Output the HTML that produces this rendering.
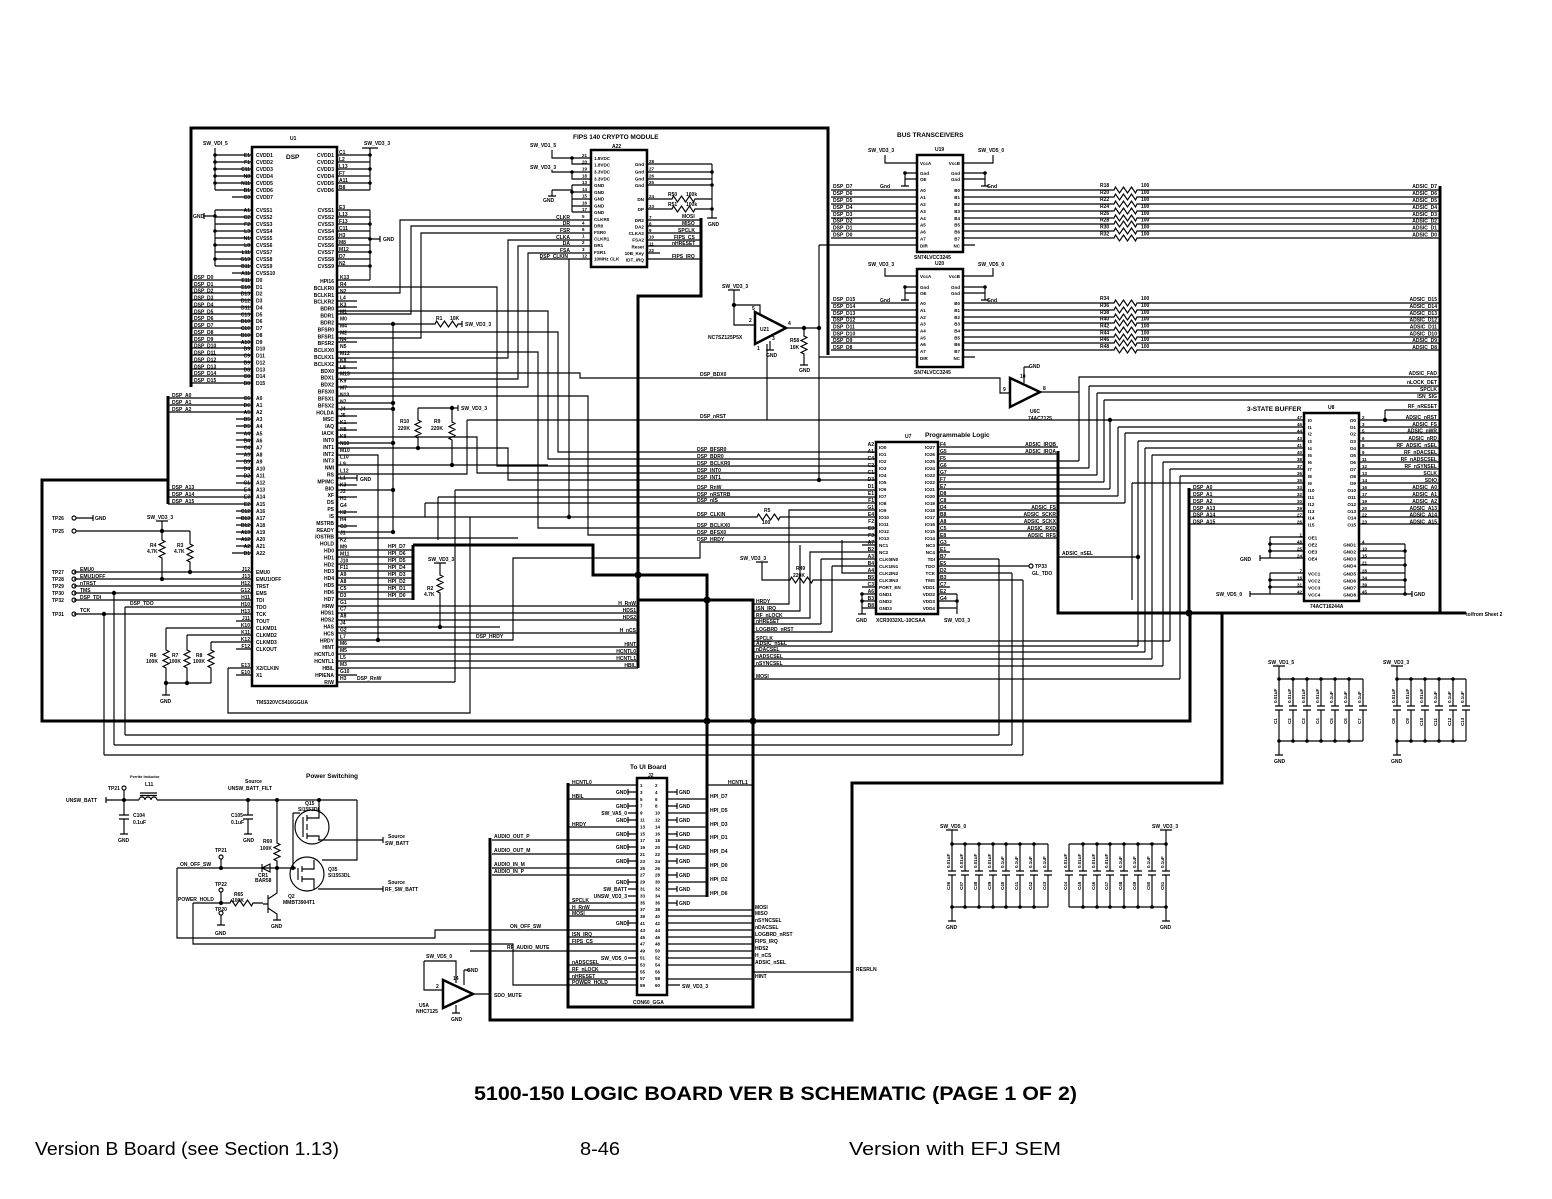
<!DOCTYPE html>
<html><head><meta charset="utf-8">
<style>
html,body{margin:0;padding:0;background:#fff;}
svg{display:block;}
text{font-family:"Liberation Sans",sans-serif;fill:#000;}
.lbl text{font-weight:bold;}
</style></head>
<body>
<svg width="1552" height="1199" viewBox="0 0 1552 1199" xmlns="http://www.w3.org/2000/svg">
<rect width="1552" height="1199" fill="#fff"/>

<!-- THIN WIRES -->
<g fill="none" stroke="#000" stroke-width="1.15">
<path d="M215,148V190 M215,155H252 M215,162H252 M215,169H252 M215,176H252 M215,183H252 M215,190H252 M232,197H252
M215,210V266 M215,210H252 M215,217H252 M215,224H252 M215,231H252 M215,238H252 M215,245H252 M215,252H252 M215,259H252 M215,266H252 M232,273H252 M204,216H215 M204,213V219"/>
<path d="M191,280H252 M191,287H252 M191,293H252 M191,300H252 M191,307H252 M191,314H252 M191,321H252 M191,328H252 M191,335H252 M191,342H252 M191,348H252 M191,355H252 M191,362H252 M191,369H252 M191,376H252 M191,383H252"/>
<path d="M168,398H252 M168,405H252 M168,412H252 M236,419H252 M236,426H252 M236,433H252 M236,440H252 M236,447H252 M236,454H252 M236,461H252 M236,468H252 M236,476H252 M236,483H252 M168,490H252 M168,497H252 M168,504H252 M236,511H252 M236,518H252 M236,525H252 M236,532H252 M236,539H252 M236,546H252 M232,553H252"/>
<path d="M76,518H93 M93,515V521 M76,531H190 M74,572H252 M74,579H252 M74,586H252 M74,593H252 M74,600H252 M125,607H252 M74,614H252 M236,621H252 M166,628H252 M187,635H252 M211,642H252 M236,649H252 M228,668H252 M236,675H252
M162,521V540 l3,1.5 l-6,3 l6,3 l-6,3 l6,3 l-6,3 l3,1.5 V579 M156,521H168
M190,531V544 l3,1.5 l-6,3 l6,3 l-6,3 l6,3 l-6,3 l3,1.5 V572
M114,593V745 M125,607V735 M104,614V755 M125,735H999 M114,745H1012 M104,755H1023 M999,735V559 M1012,745V573 M1023,755V580
M166,628V650 l3,1.5 l-6,3 l6,3 l-6,3 l6,3 l-6,3 l3,1.5 V683 M187,635V650 l3,1.5 l-6,3 l6,3 l-6,3 l6,3 l-6,3 l3,1.5 V683 M211,642V650 l3,1.5 l-6,3 l6,3 l-6,3 l6,3 l-6,3 l3,1.5 V683 M166,683H211 M166,683V695 M162,695H170
M228,668V713H470V517"/>
<path d="M337,155H370 M337,162H370 M337,169H370 M337,176H370 M337,183H370 M337,190H370 M370,148V190 M362,148H378
M337,210H370 M337,217H370 M337,224H370 M337,231H370 M337,238H370 M337,245H370 M337,252H370 M337,259H370 M337,266H370 M370,210V280 M370,239H380 M380,236V242
M337,280H370
M337,287H497V466H876
M337,293H400V220H591
M337,301H357 M337,307H357
M337,311H548V459H876
M337,314H411V226H591
M337,324H435 l1.5,-3 l4,6 l4,-6 l4,6 l4,-6 l4,6 l1.5,-3 H462 M462,321V327
M393,324V532
M337,332H558V452H876
M337,338H421V233H591
M337,342H357
M337,352H538V528H876
M337,358H508V240H591
M337,362H357 M337,368H357
M337,373H580V378H1000V393H1010
M337,379H518V246H591
M337,387H528V253H591
M337,396H588V535H876
M337,403H393 M337,409H393 M337,416H357 M337,423H357 M337,430H357
M337,437H477V473H876
M337,443H393
M337,448H508V480H876
M337,455H378V640
M337,465H548
M337,474H467V420 M467,420H1304
M337,478H357 M357,475V481
M337,485H357
M337,490H393 M455,490H876 M455,490V682
M337,497H357 M438,497H876 M438,497V540
M425,503H876 M425,503V517 M337,512H357
M337,517H757 l1.5,-3 l4,6 l4,-6 l4,6 l4,-6 l4,6 l1.5,-3 H876
M337,526H357 M337,532H393 M337,538H518
M337,550H413 M337,557H413 M337,564H413 M337,571H413 M337,578H413 M337,585H413 M337,592H413 M337,599H413
M337,606H638 M337,613H638 M337,620H638 M337,627H500 M337,633H638 M337,640H513V558H700V542H876 M337,647H638 M337,654H638 M337,661H638 M337,668H638 M337,675H357 M337,682H455
M440,563V575 l3,1.5 l-6,3 l6,3 l-6,3 l6,3 l-6,3 l3,1.5 V627 M434,563H446
M418,408H458 M458,405V411 M418,408V420 l3,1.5 l-6,3 l6,3 l-6,3 l6,3 l-6,3 l3,1.5 V448 M452,408V422 l3,1.5 l-6,3 l6,3 l-6,3 l6,3 l-6,3 l3,1.5 V465"/>
<path d="M552,150V158H591 M572,158V164H591 M552,170V172H591 M572,172V179H591 M572,185H591 M572,192H591 M572,199H591 M572,206H591 M572,212H591 M572,185V212 M552,190H572 M552,190V196 M548,196H556
M540,259H591 M569,259V517
M647,164H712 M647,172H712 M647,179H712 M647,185H712 M712,164V218 M707,218H717
M647,199H672 l1.5,-3 l4,6 l4,-6 l4,6 l4,-6 l4,6 l1.5,-3 H712 M647,209H672 l1.5,-3 l4,6 l4,-6 l4,6 l4,-6 l4,6 l1.5,-3 H712
M647,220H701 M647,226H701 M647,233H701 M647,240H701 M647,246H701 M647,253H660 M647,259H701"/>
<path d="M734,290V325H755 M734,305H760V315 M786,328H819 M804,328V336 l3,1.5 l-6,3 l6,3 l-6,3 l6,3 l-6,3 l3,1.5 V365 M800,365H808 M770,341V350 M766,350H774 M767,344V420 M819,245V480 M819,245H917 M819,357H917 M728,290H740"/>
<path d="M885,155V163H917 M963,163H993V155 M905,173H917 M905,179H917 M905,173V186 M901,186H909 M963,173H985 M963,179H985 M985,173V186 M981,186H989
M831,190H917 M831,197H917 M831,204H917 M831,211H917 M831,218H917 M831,224H917 M831,231H917 M831,238H917
M963,190H1114 l1.5,-3 l4,6 l4,-6 l4,6 l4,-6 l4,6 l1.5,-3 H1440
M963,197H1114 l1.5,-3 l4,6 l4,-6 l4,6 l4,-6 l4,6 l1.5,-3 H1440
M963,204H1114 l1.5,-3 l4,6 l4,-6 l4,6 l4,-6 l4,6 l1.5,-3 H1440
M963,211H1114 l1.5,-3 l4,6 l4,-6 l4,6 l4,-6 l4,6 l1.5,-3 H1440
M963,218H1114 l1.5,-3 l4,6 l4,-6 l4,6 l4,-6 l4,6 l1.5,-3 H1440
M963,224H1114 l1.5,-3 l4,6 l4,-6 l4,6 l4,-6 l4,6 l1.5,-3 H1440
M963,231H1114 l1.5,-3 l4,6 l4,-6 l4,6 l4,-6 l4,6 l1.5,-3 H1440
M963,238H1114 l1.5,-3 l4,6 l4,-6 l4,6 l4,-6 l4,6 l1.5,-3 H1440
M963,245H975
M885,268V276H917 M963,276H993V268 M905,287H917 M905,293H917 M905,287V300 M901,300H909 M963,287H985 M963,293H985 M985,287V300 M981,300H989
M831,303H917 M831,310H917 M831,317H917 M831,323H917 M831,330H917 M831,337H917 M831,343H917 M831,350H917
M963,303H1114 l1.5,-3 l4,6 l4,-6 l4,6 l4,-6 l4,6 l1.5,-3 H1440
M963,310H1114 l1.5,-3 l4,6 l4,-6 l4,6 l4,-6 l4,6 l1.5,-3 H1440
M963,317H1114 l1.5,-3 l4,6 l4,-6 l4,6 l4,-6 l4,6 l1.5,-3 H1440
M963,323H1114 l1.5,-3 l4,6 l4,-6 l4,6 l4,-6 l4,6 l1.5,-3 H1440
M963,330H1114 l1.5,-3 l4,6 l4,-6 l4,6 l4,-6 l4,6 l1.5,-3 H1440
M963,337H1114 l1.5,-3 l4,6 l4,-6 l4,6 l4,-6 l4,6 l1.5,-3 H1440
M963,343H1114 l1.5,-3 l4,6 l4,-6 l4,6 l4,-6 l4,6 l1.5,-3 H1440
M963,350H1114 l1.5,-3 l4,6 l4,-6 l4,6 l4,-6 l4,6 l1.5,-3 H1440
M963,357H975"/>
<path d="M1040,392H1079V377H1440 M1024,367V383 M1024,367H1030
M1079,377V461 M1089,386V468 M1097,393V475 M1104,400V482 M1110,420V489 M1118,427V496 M1125,433V503
M1089,386H1440 M1097,393H1440 M1104,400H1440 M1118,427H1304 M1125,433H1304
M938,447H1058 M938,454H1058 M938,461H1079 M938,468H1089 M938,475H1097 M938,482H1104 M938,489H1110 M938,496H1118 M938,503H1125 M938,510H1058 M938,517H1058 M938,524H1058 M938,531H1058 M938,538H1058 M938,545H950 M938,552H950 M938,559H999 M938,566H1029 M938,573H1012 M938,580H1023 M938,587H950 M938,594H957 M938,601H957 M938,608H957 M957,594V614
M862,545H876 M862,552H876 M862,587H876 M862,594H876 M862,601H876 M862,608H876 M862,594V614 M858,614H866
M821,559H876 M821,559V624 M832,566H876 M832,566V632 M842,540V573H876 M762,562V580H790 l1.5,-3 l4,6 l4,-6 l4,6 l4,-6 l4,6 l1.5,-3 H876 M756,562H768
M753,604H789V510H876 M753,611H800V545 M753,618H810V552H862 M753,624H821 M753,632H832
M753,641H1170 M753,646H1138 M753,652H1145 M753,659H1152 M753,666H1163 M753,679H1180
M1138,441V646 M1145,448V652 M1152,455V659 M1163,462V666 M1170,469V641 M1180,476V679
M1138,441H1304 M1145,448H1304 M1152,455H1304 M1163,462H1304 M1170,469H1304 M1180,476H1304 M1132,483H1304 M1132,483V600
M1058,557H1138
M1189,490H1304 M1189,497H1304 M1189,504H1304 M1189,511H1304 M1189,517H1304 M1189,524H1304
M1359,420H1440 M1359,427H1440 M1359,433H1440 M1359,441H1440 M1359,448H1440 M1359,455H1440 M1359,462H1440 M1359,469H1440 M1359,476H1440 M1359,483H1440 M1359,490H1440 M1359,497H1440 M1359,504H1440 M1359,511H1440 M1359,517H1440 M1359,524H1440 M1385,410H1440 M1385,410V420
M1270,537H1304 M1270,544H1304 M1270,551H1304 M1270,558H1304 M1270,537V558 M1260,558H1270 M1260,555V561
M1270,573H1304 M1270,580H1304 M1270,587H1304 M1270,594H1304 M1270,573V594 M1250,594H1270 M1250,591V597
M1359,544H1405 M1359,551H1405 M1359,558H1405 M1359,565H1405 M1359,573H1405 M1359,580H1405 M1359,587H1405 M1359,594H1405 M1405,544V594 M1405,594H1412 M1412,591V597"/>
<path d="M568,785H637 M707,785H752
M568,799H637 M568,827H637 M568,903H637 M568,910H637 M568,916H637 M568,937H637 M568,944H637 M568,965H637 M568,972H637 M568,979H637
M492,840H637 M492,854H637 M492,868H637 M492,875H637
M628,792H637 M628,806H637 M628,813H637 M628,820H637 M628,834H637 M628,847H637 M628,861H637 M628,882H637 M628,889H637 M628,896H637 M628,923H637 M628,958H637
M628,789V795 M628,803V809 M628,817V823 M628,831V837 M628,844V850 M628,858V864 M628,879V885 M628,920V926
M667,792H677 M667,806H677 M667,820H677 M667,834H677 M667,847H677 M667,861H677 M667,875H677 M667,889H677 M667,903H677 M667,985H680
M677,789V795 M677,803V809 M677,817V823 M677,831V837 M677,844V850 M677,858V864 M677,872V878 M677,886V892 M677,900V906
M667,799H707 M667,813H707 M667,827H707 M667,840H707 M667,854H707 M667,868H707 M667,882H707 M667,896H707
M667,910H752 M667,916H752 M667,923H752 M667,930H752 M667,937H752 M667,944H752 M667,951H752 M667,958H752 M667,965H752 M667,979H752
M752,972H852
M177,868V938H435V930H637 M193,903V944H513V985H637 M470,951H637 M473,994H490"/>
<path d="M424,961V990H443 M424,961H456V983 M464,970V985 M464,970H470 M456,1005V1013 M452,1013H460"/>
<path d="M106,800H139 M106,797V803 M139,800a3,3 0 0 1 6,0a3,3 0 0 1 6,0a3,3 0 0 1 6,0 M157,800H357 M140,793H157 M140,795.5H157
M124,790V800 M124,800V815 M119,815H129 M119,819H129 M124,819V834 M120,834H128
M248,800V815 M243,815H253 M243,819H253 M248,819V834 M244,834H252
M277,800V843 l3,1.5 l-6,3 l6,3 l-6,3 l6,3 l-6,3 l3,1.5 V893 L268,899 M268,895V913 M268,908L277,914V920 M273,920H281 M263,904H268
M319,800V812 M357,800V860H322 M293,813V868 M293,813H300 M293,868H296
M318,840H383 M383,837V843 M318,889H383 M383,886V892
M177,868H293 M221,859V868 M193,903H230 l1.5,-3 l4,6 l4,-6 l4,6 l4,-6 l4,6 l1.5,-3 H263 M221,892V903 M221,915V925 M217,925H225
M262,864V872 M262,868L270,864V872Z"/>
<circle cx="312" cy="827" r="17"/>
<circle cx="307" cy="874" r="17"/>
<path d="M303,817V837 M307,815V821 M307,824V830 M307,833V839 M307,818H319V812 M307,836H319V840 M298,868V880 M302,866V872 M302,876V882 M302,869H314V860 M302,879H314V889"/>
<path d="M1279,666V679 M1273,666H1285 M1279,679H1363 M1279,741H1363 M1279,741V755 M1275,755H1283
M1279,679V706 M1275,706H1283 M1275,710H1283 M1279,710V741
M1293,679V706 M1289,706H1297 M1289,710H1297 M1293,710V741
M1307,679V706 M1303,706H1311 M1303,710H1311 M1307,710V741
M1321,679V706 M1317,706H1325 M1317,710H1325 M1321,710V741
M1335,679V706 M1331,706H1339 M1331,710H1339 M1335,710V741
M1349,679V706 M1345,706H1353 M1345,710H1353 M1349,710V741
M1363,679V706 M1359,706H1367 M1359,710H1367 M1363,710V741"/>
<path d="M1397,666V679 M1391,666H1403 M1397,679H1466 M1397,741H1466 M1397,741V755 M1393,755H1401
M1397,679V706 M1393,706H1401 M1393,710H1401 M1397,710V741
M1411,679V706 M1407,706H1415 M1407,710H1415 M1411,710V741
M1425,679V706 M1421,706H1429 M1421,710H1429 M1425,710V741
M1439,679V706 M1435,706H1443 M1435,710H1443 M1439,710V741
M1453,679V706 M1449,706H1457 M1449,710H1457 M1453,710V741
M1466,679V706 M1462,706H1470 M1462,710H1470 M1466,710V741"/>
<path d="M952,830V844 M946,830H958 M952,844H1048 M952,907H1048 M952,907V921 M948,921H956
M952,844V871 M948,871H956 M948,875H956 M952,875V907
M965,844V871 M961,871H969 M961,875H969 M965,875V907
M979,844V871 M975,871H983 M975,875H983 M979,875V907
M993,844V871 M989,871H997 M989,875H997 M993,875V907
M1006,844V871 M1002,871H1010 M1002,875H1010 M1006,875V907
M1020,844V871 M1016,871H1024 M1016,875H1024 M1020,875V907
M1034,844V871 M1030,871H1038 M1030,875H1038 M1034,875V907
M1048,844V871 M1044,871H1052 M1044,875H1052 M1048,875V907"/>
<path d="M1166,830V844 M1160,830H1172 M1069,844H1166 M1069,907H1166 M1166,907V921 M1162,921H1170
M1069,844V871 M1065,871H1073 M1065,875H1073 M1069,875V907
M1083,844V871 M1079,871H1087 M1079,875H1087 M1083,875V907
M1097,844V871 M1093,871H1101 M1093,875H1101 M1097,875V907
M1110,844V871 M1106,871H1114 M1106,875H1114 M1110,875V907
M1124,844V871 M1120,871H1128 M1120,875H1128 M1124,875V907
M1138,844V871 M1134,871H1142 M1134,875H1142 M1138,875V907
M1152,844V871 M1148,871H1156 M1148,875H1156 M1152,875V907
M1166,844V871 M1162,871H1170 M1162,875H1170 M1166,875V907"/>
<circle cx="74" cy="518" r="2"/><circle cx="74" cy="531" r="2"/><circle cx="74" cy="572" r="2"/><circle cx="74" cy="579" r="2"/><circle cx="74" cy="586" r="2"/><circle cx="74" cy="593" r="2"/><circle cx="74" cy="600" r="2"/><circle cx="74" cy="614" r="2"/>
<circle cx="124" cy="788" r="2"/><circle cx="221" cy="857" r="2"/><circle cx="221" cy="890" r="2"/><circle cx="221" cy="913" r="2"/><circle cx="1031" cy="566" r="2"/>
</g>

<!-- THICK BUSES -->
<g fill="none" stroke="#000" stroke-width="3">
<path d="M191,387V128H828V355"/>
<path d="M168,396V504 M168,480H42V721H1190V613"/>
<path d="M1058,451V613H1462 M1440,186V613 M1189,488V613"/>
<path d="M1222,613V783H852V1020H490V838"/>
<path d="M413,545V600 M413,545H593V575H707V897"/>
<path d="M701,218V296H638V668"/>
<path d="M638,600H753V1007H568V783"/>
</g>
<g fill="none" stroke="#000" stroke-width="2.5">
<rect x="252" y="147" width="85" height="539"/>
<rect x="591" y="150" width="56" height="117"/>
<rect x="917" y="155" width="46" height="97"/>
<rect x="917" y="269" width="46" height="98"/>
<rect x="876" y="442" width="62" height="172"/>
<rect x="1304" y="413" width="55" height="188"/>
<rect x="637" y="778" width="30" height="217"/>
<path d="M755,312L755,344L786,328Z"/>
<path d="M1010,378L1010,407L1040,392Z"/>
<path d="M443,980L443,1008L473,994Z"/>
</g>
<g fill="none" stroke="#000" stroke-width="3"><path d="M1462,613H1466"/></g>

<!-- DOTS -->
<g fill="#000">
<circle cx="393" cy="324" r="2.2"/><circle cx="393" cy="403" r="2.2"/><circle cx="393" cy="409" r="2.2"/><circle cx="393" cy="443" r="2.2"/><circle cx="393" cy="490" r="2.2"/><circle cx="393" cy="532" r="2.2"/>
<circle cx="418" cy="448" r="2.2"/><circle cx="452" cy="465" r="2.2"/><circle cx="452" cy="408" r="2.2"/><circle cx="440" cy="627" r="2.2"/><circle cx="378" cy="640" r="2.2"/><circle cx="569" cy="517" r="2.2"/>
<circle cx="734" cy="305" r="2.2"/><circle cx="804" cy="328" r="2.2"/><circle cx="819" cy="328" r="2.2"/><circle cx="819" cy="480" r="2.2"/><circle cx="1110" cy="420" r="2.2"/><circle cx="1138" cy="557" r="2.2"/><circle cx="1385" cy="420" r="2.2"/>
<circle cx="162" cy="531" r="2.2"/><circle cx="162" cy="579" r="2.2"/><circle cx="190" cy="572" r="2.2"/><circle cx="166" cy="683" r="2.2"/><circle cx="187" cy="683" r="2.2"/><circle cx="114" cy="593" r="2.2"/><circle cx="104" cy="614" r="2.2"/>
<circle cx="215" cy="155" r="1.8"/><circle cx="215" cy="162" r="1.8"/><circle cx="215" cy="169" r="1.8"/><circle cx="215" cy="176" r="1.8"/><circle cx="215" cy="183" r="1.8"/><circle cx="215" cy="216" r="1.8"/><circle cx="215" cy="231" r="1.8"/><circle cx="215" cy="245" r="1.8"/><circle cx="215" cy="259" r="1.8"/>
<circle cx="370" cy="155" r="1.8"/><circle cx="370" cy="169" r="1.8"/><circle cx="370" cy="183" r="1.8"/><circle cx="370" cy="224" r="1.8"/><circle cx="370" cy="239" r="1.8"/><circle cx="370" cy="252" r="1.8"/><circle cx="370" cy="266" r="1.8"/>
<circle cx="572" cy="158" r="1.8"/><circle cx="572" cy="172" r="1.8"/><circle cx="572" cy="192" r="1.8"/><circle cx="712" cy="172" r="1.8"/><circle cx="712" cy="185" r="1.8"/><circle cx="712" cy="209" r="1.8"/>
<circle cx="905" cy="173" r="1.8"/><circle cx="985" cy="173" r="1.8"/><circle cx="905" cy="287" r="1.8"/><circle cx="985" cy="287" r="1.8"/>
<circle cx="862" cy="601" r="1.8"/><circle cx="862" cy="594" r="1.8"/><circle cx="957" cy="601" r="1.8"/><circle cx="1270" cy="544" r="1.8"/><circle cx="1270" cy="551" r="1.8"/><circle cx="1270" cy="580" r="1.8"/><circle cx="1270" cy="587" r="1.8"/>
<circle cx="1405" cy="551" r="1.8"/><circle cx="1405" cy="565" r="1.8"/><circle cx="1405" cy="580" r="1.8"/><circle cx="1405" cy="594" r="1.8"/>
<circle cx="124" cy="800" r="2"/><circle cx="248" cy="800" r="2"/><circle cx="277" cy="800" r="2"/><circle cx="319" cy="800" r="2"/><circle cx="221" cy="868" r="2"/><circle cx="293" cy="868" r="2"/><circle cx="277" cy="868" r="2"/><circle cx="221" cy="903" r="2"/>
<circle cx="638" cy="575" r="3.5"/><circle cx="707" cy="600" r="3.5"/><circle cx="707" cy="721" r="3.5"/><circle cx="753" cy="721" r="3.5"/><circle cx="1189" cy="613" r="3.5"/>
<circle cx="1279" cy="679" r="1.8"/><circle cx="1293" cy="679" r="1.8"/><circle cx="1307" cy="679" r="1.8"/><circle cx="1321" cy="679" r="1.8"/><circle cx="1335" cy="679" r="1.8"/><circle cx="1349" cy="679" r="1.8"/>
<circle cx="1279" cy="741" r="1.8"/><circle cx="1293" cy="741" r="1.8"/><circle cx="1307" cy="741" r="1.8"/><circle cx="1321" cy="741" r="1.8"/><circle cx="1335" cy="741" r="1.8"/><circle cx="1349" cy="741" r="1.8"/>
<circle cx="1397" cy="679" r="1.8"/><circle cx="1411" cy="679" r="1.8"/><circle cx="1425" cy="679" r="1.8"/><circle cx="1439" cy="679" r="1.8"/><circle cx="1453" cy="679" r="1.8"/>
<circle cx="1397" cy="741" r="1.8"/><circle cx="1411" cy="741" r="1.8"/><circle cx="1425" cy="741" r="1.8"/><circle cx="1439" cy="741" r="1.8"/><circle cx="1453" cy="741" r="1.8"/>
<circle cx="952" cy="844" r="1.8"/><circle cx="965" cy="844" r="1.8"/><circle cx="979" cy="844" r="1.8"/><circle cx="993" cy="844" r="1.8"/><circle cx="1006" cy="844" r="1.8"/><circle cx="1020" cy="844" r="1.8"/><circle cx="1034" cy="844" r="1.8"/>
<circle cx="952" cy="907" r="1.8"/><circle cx="965" cy="907" r="1.8"/><circle cx="979" cy="907" r="1.8"/><circle cx="993" cy="907" r="1.8"/><circle cx="1006" cy="907" r="1.8"/><circle cx="1020" cy="907" r="1.8"/><circle cx="1034" cy="907" r="1.8"/>
<circle cx="1083" cy="844" r="1.8"/><circle cx="1097" cy="844" r="1.8"/><circle cx="1110" cy="844" r="1.8"/><circle cx="1124" cy="844" r="1.8"/><circle cx="1138" cy="844" r="1.8"/><circle cx="1152" cy="844" r="1.8"/><circle cx="1166" cy="844" r="1.8"/>
<circle cx="1083" cy="907" r="1.8"/><circle cx="1097" cy="907" r="1.8"/><circle cx="1110" cy="907" r="1.8"/><circle cx="1124" cy="907" r="1.8"/><circle cx="1138" cy="907" r="1.8"/><circle cx="1152" cy="907" r="1.8"/><circle cx="1166" cy="907" r="1.8"/>
</g>

<!-- TEXT -->
<g font-size="5" class="lbl">
<text x="290" y="140">U1</text>
<text x="286" y="159" font-size="6.5">DSP</text>
<text x="203" y="145">SW_VDI_5</text>
<text x="364" y="145">SW_VD3_3</text>
<text x="193" y="218">GND</text>
<text x="383" y="241">GND</text>
<text x="256" y="704">TMS320VC5416GGUA</text>
<text x="256" y="157"><tspan x="256">CVDD1</tspan><tspan x="256" dy="7">CVDD2</tspan><tspan x="256" dy="7">CVDD3</tspan><tspan x="256" dy="7">CVDD4</tspan><tspan x="256" dy="7">CVDD5</tspan><tspan x="256" dy="7">CVDD6</tspan><tspan x="256" dy="7">CVDD7</tspan></text>
<text x="256" y="212"><tspan x="256">CVSS1</tspan><tspan x="256" dy="7">CVSS2</tspan><tspan x="256" dy="7">CVSS3</tspan><tspan x="256" dy="7">CVSS4</tspan><tspan x="256" dy="7">CVSS5</tspan><tspan x="256" dy="7">CVSS6</tspan><tspan x="256" dy="7">CVSS7</tspan><tspan x="256" dy="7">CVSS8</tspan><tspan x="256" dy="7">CVSS9</tspan><tspan x="256" dy="7">CVSS10</tspan></text>
<text x="256" y="282"><tspan x="256">D0</tspan><tspan x="256" dy="6.87">D1</tspan><tspan x="256" dy="6.87">D2</tspan><tspan x="256" dy="6.87">D3</tspan><tspan x="256" dy="6.87">D4</tspan><tspan x="256" dy="6.87">D5</tspan><tspan x="256" dy="6.87">D6</tspan><tspan x="256" dy="6.87">D7</tspan><tspan x="256" dy="6.87">D8</tspan><tspan x="256" dy="6.87">D9</tspan><tspan x="256" dy="6.87">D10</tspan><tspan x="256" dy="6.87">D11</tspan><tspan x="256" dy="6.87">D12</tspan><tspan x="256" dy="6.87">D13</tspan><tspan x="256" dy="6.87">D14</tspan><tspan x="256" dy="6.87">D15</tspan></text>
<text x="256" y="400"><tspan x="256">A0</tspan><tspan x="256" dy="7.05">A1</tspan><tspan x="256" dy="7.05">A2</tspan><tspan x="256" dy="7.05">A3</tspan><tspan x="256" dy="7.05">A4</tspan><tspan x="256" dy="7.05">A5</tspan><tspan x="256" dy="7.05">A6</tspan><tspan x="256" dy="7.05">A7</tspan><tspan x="256" dy="7.05">A8</tspan><tspan x="256" dy="7.05">A9</tspan><tspan x="256" dy="7.05">A10</tspan><tspan x="256" dy="7.05">A11</tspan><tspan x="256" dy="7.05">A12</tspan><tspan x="256" dy="7.05">A13</tspan><tspan x="256" dy="7.05">A14</tspan><tspan x="256" dy="7.05">A15</tspan><tspan x="256" dy="7.05">A16</tspan><tspan x="256" dy="7.05">A17</tspan><tspan x="256" dy="7.05">A18</tspan><tspan x="256" dy="7.05">A19</tspan><tspan x="256" dy="7.05">A20</tspan><tspan x="256" dy="7.05">A21</tspan><tspan x="256" dy="7.05">A22</tspan></text>
<text x="256" y="574"><tspan x="256">EMU0</tspan><tspan x="256" dy="7">EMU1/OFF</tspan><tspan x="256" dy="7">TRST</tspan><tspan x="256" dy="7">EMS</tspan><tspan x="256" dy="7">TDI</tspan><tspan x="256" dy="7">TDO</tspan><tspan x="256" dy="7">TCK</tspan><tspan x="256" dy="7">TOUT</tspan><tspan x="256" dy="7">CLKMD1</tspan><tspan x="256" dy="7">CLKMD2</tspan><tspan x="256" dy="7">CLKMD3</tspan><tspan x="256" dy="7">CLKOUT</tspan></text>
<text x="256" y="670"><tspan x="256">X2/CLKIN</tspan><tspan x="256" dy="7">X1</tspan></text>
<text x="334" y="157" text-anchor="end"><tspan x="334">CVDD1</tspan><tspan x="334" dy="7">CVDD2</tspan><tspan x="334" dy="7">CVDD3</tspan><tspan x="334" dy="7">CVDD4</tspan><tspan x="334" dy="7">CVDD5</tspan><tspan x="334" dy="7">CVDD6</tspan></text>
<text x="334" y="212" text-anchor="end"><tspan x="334">CVSS1</tspan><tspan x="334" dy="7">CVSS2</tspan><tspan x="334" dy="7">CVSS3</tspan><tspan x="334" dy="7">CVSS4</tspan><tspan x="334" dy="7">CVSS5</tspan><tspan x="334" dy="7">CVSS6</tspan><tspan x="334" dy="7">CVSS7</tspan><tspan x="334" dy="7">CVSS8</tspan><tspan x="334" dy="7">CVSS9</tspan></text>
<text x="334" y="283" text-anchor="end"><tspan x="334">HPI16</tspan><tspan x="334" dy="6.91">BCLKR0</tspan><tspan x="334" dy="6.91">BCLKR1</tspan><tspan x="334" dy="6.91">BCLKR2</tspan><tspan x="334" dy="6.91">BDR0</tspan><tspan x="334" dy="6.91">BDR1</tspan><tspan x="334" dy="6.91">BDR2</tspan><tspan x="334" dy="6.91">BFSR0</tspan><tspan x="334" dy="6.91">BFSR1</tspan><tspan x="334" dy="6.91">BFSR2</tspan><tspan x="334" dy="6.91">BCLKX0</tspan><tspan x="334" dy="6.91">BCLKX1</tspan><tspan x="334" dy="6.91">BCLKX2</tspan><tspan x="334" dy="6.91">BDX0</tspan><tspan x="334" dy="6.91">BDX1</tspan><tspan x="334" dy="6.91">BDX2</tspan><tspan x="334" dy="6.91">BFSX0</tspan><tspan x="334" dy="6.91">BFSX1</tspan><tspan x="334" dy="6.91">BFSX2</tspan><tspan x="334" dy="6.91">HOLDA</tspan><tspan x="334" dy="6.91">MSC</tspan><tspan x="334" dy="6.91">IAQ</tspan><tspan x="334" dy="6.91">IACK</tspan><tspan x="334" dy="6.91">INT0</tspan><tspan x="334" dy="6.91">INT1</tspan><tspan x="334" dy="6.91">INT2</tspan><tspan x="334" dy="6.91">INT3</tspan><tspan x="334" dy="6.91">NMI</tspan><tspan x="334" dy="6.91">RS</tspan><tspan x="334" dy="6.91">MP/MC</tspan><tspan x="334" dy="6.91">BIO</tspan><tspan x="334" dy="6.91">XF</tspan><tspan x="334" dy="6.91">DS</tspan><tspan x="334" dy="6.91">PS</tspan><tspan x="334" dy="6.91">IS</tspan><tspan x="334" dy="6.91">MSTRB</tspan><tspan x="334" dy="6.91">READY</tspan><tspan x="334" dy="6.91">IOSTRB</tspan><tspan x="334" dy="6.91">HOLD</tspan><tspan x="334" dy="6.91">HD0</tspan><tspan x="334" dy="6.91">HD1</tspan><tspan x="334" dy="6.91">HD2</tspan><tspan x="334" dy="6.91">HD3</tspan><tspan x="334" dy="6.91">HD4</tspan><tspan x="334" dy="6.91">HD5</tspan><tspan x="334" dy="6.91">HD6</tspan><tspan x="334" dy="6.91">HD7</tspan><tspan x="334" dy="6.91">HRW</tspan><tspan x="334" dy="6.91">HDS1</tspan><tspan x="334" dy="6.91">HDS2</tspan><tspan x="334" dy="6.91">HAS</tspan><tspan x="334" dy="6.91">HCS</tspan><tspan x="334" dy="6.91">HRDY</tspan><tspan x="334" dy="6.91">HINT</tspan><tspan x="334" dy="6.91">HCNTL0</tspan><tspan x="334" dy="6.91">HCNTL1</tspan><tspan x="334" dy="6.91">HBIL</tspan><tspan x="334" dy="6.91">HPIENA</tspan><tspan x="334" dy="6.91">R/W</tspan></text>
<text x="250" y="157" text-anchor="end"><tspan x="250">E1</tspan><tspan x="250" dy="7">F1</tspan><tspan x="250" dy="7">C11</tspan><tspan x="250" dy="7">N8</tspan><tspan x="250" dy="7">N11</tspan><tspan x="250" dy="7">B1</tspan><tspan x="250" dy="7">C3</tspan></text>
<text x="250" y="212" text-anchor="end"><tspan x="250">A1</tspan><tspan x="250" dy="7">C2</tspan><tspan x="250" dy="7">F2</tspan><tspan x="250" dy="7">L3</tspan><tspan x="250" dy="7">N1</tspan><tspan x="250" dy="7">L8</tspan><tspan x="250" dy="7">L11</tspan><tspan x="250" dy="7">G13</tspan><tspan x="250" dy="7">B11</tspan><tspan x="250" dy="7">A11</tspan></text>
<text x="250" y="282" text-anchor="end"><tspan x="250">E11</tspan><tspan x="250" dy="6.87">E10</tspan><tspan x="250" dy="6.87">D13</tspan><tspan x="250" dy="6.87">D12</tspan><tspan x="250" dy="6.87">D11</tspan><tspan x="250" dy="6.87">C13</tspan><tspan x="250" dy="6.87">D10</tspan><tspan x="250" dy="6.87">C10</tspan><tspan x="250" dy="6.87">B10</tspan><tspan x="250" dy="6.87">A10</tspan><tspan x="250" dy="6.87">D9</tspan><tspan x="250" dy="6.87">C9</tspan><tspan x="250" dy="6.87">B9</tspan><tspan x="250" dy="6.87">D8</tspan><tspan x="250" dy="6.87">C8</tspan><tspan x="250" dy="6.87">B8</tspan></text>
<text x="250" y="400" text-anchor="end"><tspan x="250">C6</tspan><tspan x="250" dy="7.05">D6</tspan><tspan x="250" dy="7.05">A5</tspan><tspan x="250" dy="7.05">B5</tspan><tspan x="250" dy="7.05">D5</tspan><tspan x="250" dy="7.05">A4</tspan><tspan x="250" dy="7.05">B4</tspan><tspan x="250" dy="7.05">C4</tspan><tspan x="250" dy="7.05">A3</tspan><tspan x="250" dy="7.05">B3</tspan><tspan x="250" dy="7.05">D4</tspan><tspan x="250" dy="7.05">D2</tspan><tspan x="250" dy="7.05">C1</tspan><tspan x="250" dy="7.05">E4</tspan><tspan x="250" dy="7.05">E3</tspan><tspan x="250" dy="7.05">E2</tspan><tspan x="250" dy="7.05">C12</tspan><tspan x="250" dy="7.05">B13</tspan><tspan x="250" dy="7.05">B12</tspan><tspan x="250" dy="7.05">A13</tspan><tspan x="250" dy="7.05">A12</tspan><tspan x="250" dy="7.05">A2</tspan><tspan x="250" dy="7.05">B1</tspan></text>
<text x="250" y="571" text-anchor="end"><tspan x="250">J12</tspan><tspan x="250" dy="7">J13</tspan><tspan x="250" dy="7">H12</tspan><tspan x="250" dy="7">G12</tspan><tspan x="250" dy="7">H11</tspan><tspan x="250" dy="7">H10</tspan><tspan x="250" dy="7">H13</tspan><tspan x="250" dy="7">J11</tspan><tspan x="250" dy="7">K10</tspan><tspan x="250" dy="7">K11</tspan><tspan x="250" dy="7">K12</tspan><tspan x="250" dy="7">F12</tspan></text>
<text x="250" y="667" text-anchor="end"><tspan x="250">E13</tspan><tspan x="250" dy="7">E10</tspan></text>
<text x="339" y="154"><tspan x="339">C1</tspan><tspan x="339" dy="7">L2</tspan><tspan x="339" dy="7">L13</tspan><tspan x="339" dy="7">F7</tspan><tspan x="339" dy="7">A11</tspan><tspan x="339" dy="7">B8</tspan></text>
<text x="339" y="209"><tspan x="339">E3</tspan><tspan x="339" dy="7">L13</tspan><tspan x="339" dy="7">F13</tspan><tspan x="339" dy="7">C11</tspan><tspan x="339" dy="7">H3</tspan><tspan x="339" dy="7">M8</tspan><tspan x="339" dy="7">M12</tspan><tspan x="339" dy="7">D7</tspan><tspan x="339" dy="7">N2</tspan></text>
<text x="340" y="279"><tspan x="340">K13</tspan><tspan x="340" dy="6.91">R4</tspan><tspan x="340" dy="6.91">N2</tspan><tspan x="340" dy="6.91">L4</tspan><tspan x="340" dy="6.91">K3</tspan><tspan x="340" dy="6.91">M1</tspan><tspan x="340" dy="6.91">M0</tspan><tspan x="340" dy="6.91">M4</tspan><tspan x="340" dy="6.91">M2</tspan><tspan x="340" dy="6.91">N4</tspan><tspan x="340" dy="6.91">N5</tspan><tspan x="340" dy="6.91">M12</tspan><tspan x="340" dy="6.91">K8</tspan><tspan x="340" dy="6.91">L8</tspan><tspan x="340" dy="6.91">M13</tspan><tspan x="340" dy="6.91">K9</tspan><tspan x="340" dy="6.91">M7</tspan><tspan x="340" dy="6.91">N13</tspan><tspan x="340" dy="6.91">N7</tspan><tspan x="340" dy="6.91">J4</tspan><tspan x="340" dy="6.91">J5</tspan><tspan x="340" dy="6.91">K1</tspan><tspan x="340" dy="6.91">N8</tspan><tspan x="340" dy="6.91">K9</tspan><tspan x="340" dy="6.91">N10</tspan><tspan x="340" dy="6.91">M10</tspan><tspan x="340" dy="6.91">L10</tspan><tspan x="340" dy="6.91">L9</tspan><tspan x="340" dy="6.91">L12</tspan><tspan x="340" dy="6.91">L1</tspan><tspan x="340" dy="6.91">K3</tspan><tspan x="340" dy="6.91">J3</tspan><tspan x="340" dy="6.91">H1</tspan><tspan x="340" dy="6.91">G4</tspan><tspan x="340" dy="6.91">H2</tspan><tspan x="340" dy="6.91">H4</tspan><tspan x="340" dy="6.91">G3</tspan><tspan x="340" dy="6.91">J1</tspan><tspan x="340" dy="6.91">K2</tspan><tspan x="340" dy="6.91">M9</tspan><tspan x="340" dy="6.91">M11</tspan><tspan x="340" dy="6.91">J10</tspan><tspan x="340" dy="6.91">F11</tspan><tspan x="340" dy="6.91">A9</tspan><tspan x="340" dy="6.91">A8</tspan><tspan x="340" dy="6.91">C5</tspan><tspan x="340" dy="6.91">D3</tspan><tspan x="340" dy="6.91">G1</tspan><tspan x="340" dy="6.91">C7</tspan><tspan x="340" dy="6.91">A8</tspan><tspan x="340" dy="6.91">J4</tspan><tspan x="340" dy="6.91">G2</tspan><tspan x="340" dy="6.91">L7</tspan><tspan x="340" dy="6.91">M6</tspan><tspan x="340" dy="6.91">M5</tspan><tspan x="340" dy="6.91">L5</tspan><tspan x="340" dy="6.91">M3</tspan><tspan x="340" dy="6.91">G10</tspan><tspan x="340" dy="6.91">H3</tspan></text>
<text x="194" y="279"><tspan x="194">DSP_D0</tspan><tspan x="194" dy="6.87">DSP_D1</tspan><tspan x="194" dy="6.87">DSP_D2</tspan><tspan x="194" dy="6.87">DSP_D3</tspan><tspan x="194" dy="6.87">DSP_D4</tspan><tspan x="194" dy="6.87">DSP_D5</tspan><tspan x="194" dy="6.87">DSP_D6</tspan><tspan x="194" dy="6.87">DSP_D7</tspan><tspan x="194" dy="6.87">DSP_D8</tspan><tspan x="194" dy="6.87">DSP_D9</tspan><tspan x="194" dy="6.87">DSP_D10</tspan><tspan x="194" dy="6.87">DSP_D11</tspan><tspan x="194" dy="6.87">DSP_D12</tspan><tspan x="194" dy="6.87">DSP_D13</tspan><tspan x="194" dy="6.87">DSP_D14</tspan><tspan x="194" dy="6.87">DSP_D15</tspan></text>
<text x="172" y="397"><tspan x="172">DSP_A0</tspan><tspan x="172" dy="7">DSP_A1</tspan><tspan x="172" dy="7">DSP_A2</tspan></text>
<text x="172" y="489"><tspan x="172">DSP_A13</tspan><tspan x="172" dy="7">DSP_A14</tspan><tspan x="172" dy="7">DSP_A15</tspan></text>
<text x="52" y="520">TP26</text><text x="95" y="520">GND</text>
<text x="52" y="533">TP25</text>
<text x="52" y="574">TP27</text><text x="52" y="581">TP28</text><text x="52" y="588">TP29</text><text x="52" y="595">TP30</text><text x="52" y="602">TP32</text><text x="52" y="616">TP31</text>
<text x="80" y="571">EMU0</text><text x="80" y="578">EMU1/OFF</text><text x="80" y="585">nTRST</text><text x="80" y="592">TMS</text><text x="80" y="599">DSP_TDI</text><text x="130" y="605">DSP_TDO</text><text x="80" y="612">TCK</text>
<text x="147" y="519">SW_VD3_3</text>
<text x="150" y="547">R4</text><text x="147" y="553">4.7K</text><text x="177" y="547">R3</text><text x="174" y="553">4.7K</text>
<text x="150" y="657">R6</text><text x="146" y="663">100K</text><text x="172" y="657">R7</text><text x="169" y="663">100K</text><text x="196" y="657">R8</text><text x="193" y="663">100K</text>
<text x="160" y="703">GND</text>
<text x="388" y="548"><tspan x="388">HPI_D7</tspan><tspan x="388" dy="7">HPI_D6</tspan><tspan x="388" dy="7">HPI_D5</tspan><tspan x="388" dy="7">HPI_D4</tspan><tspan x="388" dy="7">HPI_D3</tspan><tspan x="388" dy="7">HPI_D2</tspan><tspan x="388" dy="7">HPI_D1</tspan><tspan x="388" dy="7">HPI_D0</tspan></text>
<text x="357" y="680">DSP_RnW</text>
<text x="476" y="638">DSP_HRDY</text>
<text x="428" y="561">SW_VD3_3</text><text x="427" y="590">R2</text><text x="424" y="596">4.7K</text>
<text x="436" y="320">R1</text><text x="450" y="320">10K</text><text x="465" y="326">SW_VD3_3</text>
<text x="400" y="423">R10</text><text x="398" y="430">220K</text><text x="434" y="423">R9</text><text x="431" y="430">220K</text><text x="461" y="410">SW_VD3_3</text>
<text x="360" y="481">GND</text>
<text x="700" y="376">DSP_BDX0</text><text x="700" y="418">DSP_nRST</text>
<text x="697" y="451">DSP_BFSR0</text><text x="697" y="458">DSP_BDR0</text><text x="697" y="465">DSP_BCLKR0</text><text x="697" y="472">DSP_INT0</text><text x="697" y="479">DSP_INT1</text><text x="697" y="489">DSP_RnW</text><text x="697" y="496">DSP_nRSTRB</text><text x="697" y="502">DSP_nIS</text><text x="697" y="516">DSP_CLKIN</text><text x="697" y="527">DSP_BCLKX0</text><text x="697" y="534">DSP_BFSX0</text><text x="697" y="541">DSP_HRDY</text>
<text x="764" y="512">R5</text><text x="762" y="524">100</text>
<text x="636" y="605" text-anchor="end">H_RnW</text><text x="636" y="612" text-anchor="end">HDS1</text><text x="636" y="619" text-anchor="end">HDS2</text><text x="636" y="632" text-anchor="end">H_nCS</text><text x="636" y="646" text-anchor="end">HINT</text><text x="636" y="653" text-anchor="end">HCNTL0</text><text x="636" y="660" text-anchor="end">HCNTL1</text><text x="636" y="667" text-anchor="end">HBIL</text>
<text x="756" y="603">HRDY</text><text x="756" y="610">ISN_IRQ</text><text x="756" y="617">RF_nLOCK</text><text x="756" y="623">nHRESET</text><text x="756" y="631">LOGBRD_nRST</text><text x="756" y="640">SPCLK</text><text x="756" y="645">ADSIC_nSEL</text><text x="756" y="651">nDACSEL</text><text x="756" y="658">nADSCSEL</text><text x="756" y="665">nSYNCSEL</text><text x="756" y="678">MOSI</text>
<text x="740" y="560">SW_VD3_3</text><text x="796" y="570">R49</text><text x="793" y="577">220K</text>
<text x="573" y="139" font-size="6.5">FIPS 140 CRYPTO MODULE</text>
<text x="612" y="148">A22</text>
<text x="594" y="160" font-size="4.6"><tspan x="594">1.8VDC</tspan><tspan x="594" dy="6.5">1.8VDC</tspan><tspan x="594" dy="7">3.3VDC</tspan><tspan x="594" dy="7">3.3VDC</tspan><tspan x="594" dy="6.5">GND</tspan><tspan x="594" dy="6.8">GND</tspan><tspan x="594" dy="6.8">GND</tspan><tspan x="594" dy="6.8">GND</tspan><tspan x="594" dy="6.8">GND</tspan><tspan x="594" dy="6.6">CLKR0</tspan><tspan x="594" dy="6.6">DR0</tspan><tspan x="594" dy="6.6">FSR0</tspan><tspan x="594" dy="6.6">CLKR1</tspan><tspan x="594" dy="6.6">DR1</tspan><tspan x="594" dy="6.6">FSR1</tspan><tspan x="594" dy="6.6">10MHz CLK</tspan></text>
<text x="644" y="166" font-size="4.6" text-anchor="end"><tspan x="644">Gnd</tspan><tspan x="644" dy="7.5">Gnd</tspan><tspan x="644" dy="7">Gnd</tspan><tspan x="644" dy="6.5">Gnd</tspan><tspan x="644" dy="14">DN</tspan><tspan x="644" dy="10">DP</tspan><tspan x="644" dy="11">DR2</tspan><tspan x="644" dy="6.5">DA2</tspan><tspan x="644" dy="6.6">CLKA2</tspan><tspan x="644" dy="6.6">FSA2</tspan><tspan x="644" dy="6.6">Reset</tspan><tspan x="644" dy="6.6">10B_Key</tspan><tspan x="644" dy="6.6">IDT_IRQ</tspan></text>
<text x="582" y="157" font-size="4.5"><tspan x="582">21</tspan><tspan x="582" dy="6.5">20</tspan><tspan x="582" dy="7">19</tspan><tspan x="582" dy="7">18</tspan><tspan x="582" dy="6.5">13</tspan><tspan x="582" dy="6.8">14</tspan><tspan x="582" dy="6.8">15</tspan><tspan x="582" dy="6.8">16</tspan><tspan x="582" dy="6.8">17</tspan><tspan x="582" dy="6.6">5</tspan><tspan x="582" dy="6.6">4</tspan><tspan x="582" dy="6.6">6</tspan><tspan x="582" dy="6.6">1</tspan><tspan x="582" dy="6.6">2</tspan><tspan x="582" dy="6.6">3</tspan><tspan x="582" dy="6.6">12</tspan></text>
<text x="649" y="163" font-size="4.5"><tspan x="649">28</tspan><tspan x="649" dy="7.5">27</tspan><tspan x="649" dy="7">26</tspan><tspan x="649" dy="6.5">25</tspan><tspan x="649" dy="14">24</tspan><tspan x="649" dy="10">23</tspan><tspan x="649" dy="11">7</tspan><tspan x="649" dy="6.5">8</tspan><tspan x="649" dy="6.6">9</tspan><tspan x="649" dy="6.6">10</tspan><tspan x="649" dy="6.6">11</tspan><tspan x="649" dy="6.6">22</tspan></text>
<text x="570" y="219" text-anchor="end">CLKR</text><text x="570" y="225" text-anchor="end">DR</text><text x="570" y="232" text-anchor="end">FSR</text><text x="570" y="239" text-anchor="end">CLKA</text><text x="570" y="245" text-anchor="end">DA</text><text x="570" y="252" text-anchor="end">FSA</text><text x="568" y="258" text-anchor="end">DSP_CLKIN</text>
<text x="530" y="147">SW_VD1_5</text><text x="530" y="169">SW_VD3_3</text><text x="543" y="202">GND</text>
<text x="682" y="218">MOSI</text><text x="682" y="225">MISO</text><text x="678" y="232">SPCLK</text><text x="674" y="239">FIPS_CS</text><text x="672" y="245">nHRESET</text><text x="672" y="258">FIPS_IRQ</text>
<text x="668" y="196">R50</text><text x="686" y="196">100k</text><text x="668" y="206">R51</text><text x="686" y="206">100k</text><text x="708" y="226">GND</text>
<text x="722" y="288">SW_VD3_3</text><text x="760" y="331">U21</text><text x="708" y="339">NC7SZ125P5X</text><text x="766" y="357">GND</text><text x="790" y="342">R58</text><text x="790" y="349">10K</text><text x="799" y="372">GND</text>
<text x="752" y="310">5</text><text x="749" y="322">2</text><text x="788" y="325">4</text><text x="772" y="340">3</text><text x="757" y="350">1</text>
<text x="897" y="137" font-size="6.5">BUS TRANSCEIVERS</text>
<text x="935" y="151">U19</text><text x="868" y="152">SW_VD3_3</text><text x="978" y="152">SW_VD5_0</text>
<text x="920" y="165" font-size="4.5"><tspan x="920">VccA</tspan><tspan x="920" dy="10">Gnd</tspan><tspan x="920" dy="6">OE</tspan><tspan x="920" dy="11">A0</tspan><tspan x="920" dy="7">A1</tspan><tspan x="920" dy="7">A2</tspan><tspan x="920" dy="7">A3</tspan><tspan x="920" dy="7">A4</tspan><tspan x="920" dy="6.5">A5</tspan><tspan x="920" dy="7">A6</tspan><tspan x="920" dy="7">A7</tspan><tspan x="920" dy="7">DIR</tspan></text>
<text x="960" y="165" font-size="4.5" text-anchor="end"><tspan x="960">VccB</tspan><tspan x="960" dy="10">Gnd</tspan><tspan x="960" dy="6">Gnd</tspan><tspan x="960" dy="11">B0</tspan><tspan x="960" dy="7">B1</tspan><tspan x="960" dy="7">B2</tspan><tspan x="960" dy="7">B3</tspan><tspan x="960" dy="7">B4</tspan><tspan x="960" dy="6.5">B5</tspan><tspan x="960" dy="7">B6</tspan><tspan x="960" dy="7">B7</tspan><tspan x="960" dy="7">NC</tspan></text>
<text x="880" y="188">Gnd</text><text x="987" y="188">Gnd</text><text x="914" y="259">SN74LVCC3245</text>
<text x="935" y="265">U20</text><text x="868" y="266">SW_VD3_3</text><text x="978" y="266">SW_VD5_0</text>
<text x="920" y="278" font-size="4.5"><tspan x="920">VccA</tspan><tspan x="920" dy="11">Gnd</tspan><tspan x="920" dy="6">OE</tspan><tspan x="920" dy="10">A0</tspan><tspan x="920" dy="7">A1</tspan><tspan x="920" dy="7">A2</tspan><tspan x="920" dy="6.5">A3</tspan><tspan x="920" dy="7">A4</tspan><tspan x="920" dy="7">A5</tspan><tspan x="920" dy="6.5">A6</tspan><tspan x="920" dy="7">A7</tspan><tspan x="920" dy="7">DIR</tspan></text>
<text x="960" y="278" font-size="4.5" text-anchor="end"><tspan x="960">VccB</tspan><tspan x="960" dy="11">Gnd</tspan><tspan x="960" dy="6">Gnd</tspan><tspan x="960" dy="10">B0</tspan><tspan x="960" dy="7">B1</tspan><tspan x="960" dy="7">B2</tspan><tspan x="960" dy="6.5">B3</tspan><tspan x="960" dy="7">B4</tspan><tspan x="960" dy="7">B5</tspan><tspan x="960" dy="6.5">B6</tspan><tspan x="960" dy="7">B7</tspan><tspan x="960" dy="7">NC</tspan></text>
<text x="880" y="302">Gnd</text><text x="987" y="302">Gnd</text><text x="914" y="374">SN74LVCC3245</text>
<text x="833" y="188"><tspan x="833">DSP_D7</tspan><tspan x="833" dy="7">DSP_D6</tspan><tspan x="833" dy="7">DSP_D5</tspan><tspan x="833" dy="7">DSP_D4</tspan><tspan x="833" dy="7">DSP_D3</tspan><tspan x="833" dy="6.5">DSP_D2</tspan><tspan x="833" dy="7">DSP_D1</tspan><tspan x="833" dy="7">DSP_D0</tspan></text>
<text x="833" y="301"><tspan x="833">DSP_D15</tspan><tspan x="833" dy="7">DSP_D14</tspan><tspan x="833" dy="7">DSP_D13</tspan><tspan x="833" dy="6.5">DSP_D12</tspan><tspan x="833" dy="7">DSP_D11</tspan><tspan x="833" dy="7">DSP_D10</tspan><tspan x="833" dy="6.5">DSP_D9</tspan><tspan x="833" dy="7">DSP_D8</tspan></text>
<text x="1100" y="187"><tspan x="1100">R18</tspan><tspan x="1100" dy="7">R20</tspan><tspan x="1100" dy="7">R22</tspan><tspan x="1100" dy="7">R24</tspan><tspan x="1100" dy="7">R26</tspan><tspan x="1100" dy="6.5">R28</tspan><tspan x="1100" dy="7">R30</tspan><tspan x="1100" dy="7">R32</tspan></text>
<text x="1141" y="187"><tspan x="1141">100</tspan><tspan x="1141" dy="7">100</tspan><tspan x="1141" dy="7">100</tspan><tspan x="1141" dy="7">100</tspan><tspan x="1141" dy="7">100</tspan><tspan x="1141" dy="6.5">100</tspan><tspan x="1141" dy="7">100</tspan><tspan x="1141" dy="7">100</tspan></text>
<text x="1100" y="300"><tspan x="1100">R34</tspan><tspan x="1100" dy="7">R36</tspan><tspan x="1100" dy="7">R38</tspan><tspan x="1100" dy="6.5">R40</tspan><tspan x="1100" dy="7">R42</tspan><tspan x="1100" dy="7">R44</tspan><tspan x="1100" dy="6.5">R46</tspan><tspan x="1100" dy="7">R48</tspan></text>
<text x="1141" y="300"><tspan x="1141">100</tspan><tspan x="1141" dy="7">100</tspan><tspan x="1141" dy="7">100</tspan><tspan x="1141" dy="6.5">100</tspan><tspan x="1141" dy="7">100</tspan><tspan x="1141" dy="7">100</tspan><tspan x="1141" dy="6.5">100</tspan><tspan x="1141" dy="7">100</tspan></text>
<text x="1437" y="188" text-anchor="end"><tspan x="1437">ADSIC_D7</tspan><tspan x="1437" dy="7">ADSIC_D6</tspan><tspan x="1437" dy="7">ADSIC_D5</tspan><tspan x="1437" dy="7">ADSIC_D4</tspan><tspan x="1437" dy="7">ADSIC_D3</tspan><tspan x="1437" dy="6.5">ADSIC_D2</tspan><tspan x="1437" dy="7">ADSIC_D1</tspan><tspan x="1437" dy="7">ADSIC_D0</tspan></text>
<text x="1437" y="301" text-anchor="end"><tspan x="1437">ADSIC_D15</tspan><tspan x="1437" dy="7">ADSIC_D14</tspan><tspan x="1437" dy="7">ADSIC_D13</tspan><tspan x="1437" dy="6.5">ADSIC_D12</tspan><tspan x="1437" dy="7">ADSIC_D11</tspan><tspan x="1437" dy="7">ADSIC_D10</tspan><tspan x="1437" dy="6.5">ADSIC_D9</tspan><tspan x="1437" dy="7">ADSIC_D8</tspan></text>
<text x="1029" y="368">GND</text><text x="1020" y="378">10</text><text x="1003" y="391">9</text><text x="1043" y="390">8</text><text x="1030" y="413">U6C</text><text x="1028" y="420">74AC7125</text>
<text x="1437" y="375" text-anchor="end">ADSIC_FAD</text><text x="1437" y="384" text-anchor="end">nLOCK_DET</text><text x="1437" y="391" text-anchor="end">SPCLK</text><text x="1437" y="398" text-anchor="end">ISN_SIG</text><text x="1437" y="408" text-anchor="end">RF_nRESET</text>
<text x="905" y="438">U7</text><text x="925" y="437" font-size="6.5">Programmable Logic</text>
<text x="879" y="449" font-size="4.6"><tspan x="879">IO0</tspan><tspan x="879" dy="7">IO1</tspan><tspan x="879" dy="7">IO2</tspan><tspan x="879" dy="7">IO3</tspan><tspan x="879" dy="7">IO4</tspan><tspan x="879" dy="7">IO5</tspan><tspan x="879" dy="7">IO6</tspan><tspan x="879" dy="7">IO7</tspan><tspan x="879" dy="7">IO8</tspan><tspan x="879" dy="7">IO9</tspan><tspan x="879" dy="7">IO10</tspan><tspan x="879" dy="7">IO11</tspan><tspan x="879" dy="7">IO12</tspan><tspan x="879" dy="7">IO13</tspan><tspan x="879" dy="7">NC1</tspan><tspan x="879" dy="7">NC2</tspan><tspan x="879" dy="7">CLK0IN0</tspan><tspan x="879" dy="7">CLK1IN1</tspan><tspan x="879" dy="7">CLK2IN2</tspan><tspan x="879" dy="7">CLK3IN3</tspan><tspan x="879" dy="7">PORT_EN</tspan><tspan x="879" dy="7">GND1</tspan><tspan x="879" dy="7">GND2</tspan><tspan x="879" dy="7">GND3</tspan></text>
<text x="935" y="449" font-size="4.6" text-anchor="end"><tspan x="935">IO27</tspan><tspan x="935" dy="7">IO26</tspan><tspan x="935" dy="7">IO25</tspan><tspan x="935" dy="7">IO24</tspan><tspan x="935" dy="7">IO23</tspan><tspan x="935" dy="7">IO22</tspan><tspan x="935" dy="7">IO21</tspan><tspan x="935" dy="7">IO20</tspan><tspan x="935" dy="7">IO19</tspan><tspan x="935" dy="7">IO18</tspan><tspan x="935" dy="7">IO17</tspan><tspan x="935" dy="7">IO16</tspan><tspan x="935" dy="7">IO15</tspan><tspan x="935" dy="7">IO14</tspan><tspan x="935" dy="7">NC3</tspan><tspan x="935" dy="7">NC4</tspan><tspan x="935" dy="7">TDI</tspan><tspan x="935" dy="7">TDO</tspan><tspan x="935" dy="7">TCK</tspan><tspan x="935" dy="7">TMS</tspan><tspan x="935" dy="7">VDD1</tspan><tspan x="935" dy="7">VDD2</tspan><tspan x="935" dy="7">VDD3</tspan><tspan x="935" dy="7">VDD4</tspan></text>
<text x="874" y="446" text-anchor="end"><tspan x="874">A2</tspan><tspan x="874" dy="7">A1</tspan><tspan x="874" dy="7">C4</tspan><tspan x="874" dy="7">C2</tspan><tspan x="874" dy="7">C1</tspan><tspan x="874" dy="7">D3</tspan><tspan x="874" dy="7">D1</tspan><tspan x="874" dy="7">E1</tspan><tspan x="874" dy="7">F1</tspan><tspan x="874" dy="7">G1</tspan><tspan x="874" dy="7">E4</tspan><tspan x="874" dy="7">F2</tspan><tspan x="874" dy="7">C3</tspan><tspan x="874" dy="7">F3</tspan><tspan x="874" dy="7">A7</tspan><tspan x="874" dy="7">B2</tspan><tspan x="874" dy="7">A3</tspan><tspan x="874" dy="7">B4</tspan><tspan x="874" dy="7">A4</tspan><tspan x="874" dy="7">B5</tspan><tspan x="874" dy="7">C3</tspan><tspan x="874" dy="7">A6</tspan><tspan x="874" dy="7">B3</tspan><tspan x="874" dy="7">B8</tspan></text>
<text x="940" y="446"><tspan x="940">F4</tspan><tspan x="940" dy="7">G5</tspan><tspan x="940" dy="7">F5</tspan><tspan x="940" dy="7">G6</tspan><tspan x="940" dy="7">G7</tspan><tspan x="940" dy="7">F7</tspan><tspan x="940" dy="7">E7</tspan><tspan x="940" dy="7">D8</tspan><tspan x="940" dy="7">C8</tspan><tspan x="940" dy="7">D4</tspan><tspan x="940" dy="7">B8</tspan><tspan x="940" dy="7">A8</tspan><tspan x="940" dy="7">C5</tspan><tspan x="940" dy="7">E8</tspan><tspan x="940" dy="7">G3</tspan><tspan x="940" dy="7">E1</tspan><tspan x="940" dy="7">B7</tspan><tspan x="940" dy="7">E5</tspan><tspan x="940" dy="7">D2</tspan><tspan x="940" dy="7">B3</tspan><tspan x="940" dy="7">C7</tspan><tspan x="940" dy="7">E2</tspan><tspan x="940" dy="7">G4</tspan></text>
<text x="856" y="622">GND</text><text x="876" y="622">XCR3032XL-10CSAA</text><text x="944" y="622">SW_VD3_3</text>
<text x="1056" y="446" text-anchor="end">ADSIC_IRQB</text><text x="1056" y="453" text-anchor="end">ADSIC_IRQA</text><text x="1056" y="509" text-anchor="end">ADSIC_FS</text><text x="1056" y="516" text-anchor="end">ADSIC_SCKR</text><text x="1056" y="523" text-anchor="end">ADSIC_SCKX</text><text x="1056" y="530" text-anchor="end">ADSIC_RXD</text><text x="1056" y="537" text-anchor="end">ADSIC_RFS</text>
<text x="1062" y="555">ADSIC_nSEL</text><text x="1035" y="568">TP33</text><text x="1032" y="575">GL_TDO</text>
<text x="1247" y="411" font-size="6.5">3-STATE BUFFER</text><text x="1328" y="409">U8</text>
<text x="1308" y="422" font-size="4.6"><tspan x="1308">I0</tspan><tspan x="1308" dy="7">I1</tspan><tspan x="1308" dy="6.5">I2</tspan><tspan x="1308" dy="7.5">I3</tspan><tspan x="1308" dy="7">I4</tspan><tspan x="1308" dy="7">I5</tspan><tspan x="1308" dy="7">I6</tspan><tspan x="1308" dy="7">I7</tspan><tspan x="1308" dy="7">I8</tspan><tspan x="1308" dy="7">I9</tspan><tspan x="1308" dy="7">I10</tspan><tspan x="1308" dy="7">I11</tspan><tspan x="1308" dy="7">I12</tspan><tspan x="1308" dy="7">I13</tspan><tspan x="1308" dy="6.5">I14</tspan><tspan x="1308" dy="7">I15</tspan><tspan x="1308" dy="13">OE1</tspan><tspan x="1308" dy="7">OE2</tspan><tspan x="1308" dy="7">OE3</tspan><tspan x="1308" dy="7">OE4</tspan><tspan x="1308" dy="15">VCC1</tspan><tspan x="1308" dy="7">VCC2</tspan><tspan x="1308" dy="7">VCC3</tspan><tspan x="1308" dy="7">VCC4</tspan></text>
<text x="1356" y="422" font-size="4.6" text-anchor="end"><tspan x="1356">O0</tspan><tspan x="1356" dy="7">O1</tspan><tspan x="1356" dy="6.5">O2</tspan><tspan x="1356" dy="7.5">O3</tspan><tspan x="1356" dy="7">O4</tspan><tspan x="1356" dy="7">O5</tspan><tspan x="1356" dy="7">O6</tspan><tspan x="1356" dy="7">O7</tspan><tspan x="1356" dy="7">O8</tspan><tspan x="1356" dy="7">O9</tspan><tspan x="1356" dy="7">O10</tspan><tspan x="1356" dy="7">O11</tspan><tspan x="1356" dy="7">O12</tspan><tspan x="1356" dy="7">O13</tspan><tspan x="1356" dy="6.5">O14</tspan><tspan x="1356" dy="7">O15</tspan><tspan x="1356" dy="20">GND1</tspan><tspan x="1356" dy="7">GND2</tspan><tspan x="1356" dy="7">GND3</tspan><tspan x="1356" dy="7">GND4</tspan><tspan x="1356" dy="8">GND5</tspan><tspan x="1356" dy="7">GND6</tspan><tspan x="1356" dy="7">GND7</tspan><tspan x="1356" dy="7">GND8</tspan></text>
<text x="1302" y="419" text-anchor="end" font-size="4.5"><tspan x="1302">47</tspan><tspan x="1302" dy="7">46</tspan><tspan x="1302" dy="6.5">44</tspan><tspan x="1302" dy="7.5">43</tspan><tspan x="1302" dy="7">41</tspan><tspan x="1302" dy="7">40</tspan><tspan x="1302" dy="7">38</tspan><tspan x="1302" dy="7">37</tspan><tspan x="1302" dy="7">36</tspan><tspan x="1302" dy="7">35</tspan><tspan x="1302" dy="7">33</tspan><tspan x="1302" dy="7">32</tspan><tspan x="1302" dy="7">30</tspan><tspan x="1302" dy="7">29</tspan><tspan x="1302" dy="6.5">27</tspan><tspan x="1302" dy="7">26</tspan><tspan x="1302" dy="13">1</tspan><tspan x="1302" dy="7">48</tspan><tspan x="1302" dy="7">25</tspan><tspan x="1302" dy="7">24</tspan><tspan x="1302" dy="15">7</tspan><tspan x="1302" dy="7">18</tspan><tspan x="1302" dy="7">31</tspan><tspan x="1302" dy="7">42</tspan></text>
<text x="1362" y="419" font-size="4.5"><tspan x="1362">2</tspan><tspan x="1362" dy="7">3</tspan><tspan x="1362" dy="6.5">5</tspan><tspan x="1362" dy="7.5">6</tspan><tspan x="1362" dy="7">8</tspan><tspan x="1362" dy="7">9</tspan><tspan x="1362" dy="7">11</tspan><tspan x="1362" dy="7">12</tspan><tspan x="1362" dy="7">13</tspan><tspan x="1362" dy="7">14</tspan><tspan x="1362" dy="7">16</tspan><tspan x="1362" dy="7">17</tspan><tspan x="1362" dy="7">19</tspan><tspan x="1362" dy="7">20</tspan><tspan x="1362" dy="6.5">22</tspan><tspan x="1362" dy="7">23</tspan><tspan x="1362" dy="20">4</tspan><tspan x="1362" dy="7">10</tspan><tspan x="1362" dy="7">15</tspan><tspan x="1362" dy="7">21</tspan><tspan x="1362" dy="8">28</tspan><tspan x="1362" dy="7">34</tspan><tspan x="1362" dy="7">39</tspan><tspan x="1362" dy="7">45</tspan></text>
<text x="1437" y="419" text-anchor="end"><tspan x="1437">ADSIC_nRST</tspan><tspan x="1437" dy="7">ADSIC_FS</tspan><tspan x="1437" dy="6.5">ADSIC_nWR</tspan><tspan x="1437" dy="7.5">ADSIC_nRD</tspan><tspan x="1437" dy="7">RF_ADSIC_nSEL</tspan><tspan x="1437" dy="7">RF_nDACSEL</tspan><tspan x="1437" dy="7">RF_nADSCSEL</tspan><tspan x="1437" dy="7">RF_nSYNSEL</tspan><tspan x="1437" dy="7">SCLK</tspan><tspan x="1437" dy="7">SDIO</tspan><tspan x="1437" dy="7">ADSIC_A0</tspan><tspan x="1437" dy="7">ADSIC_A1</tspan><tspan x="1437" dy="7">ADSIC_A2</tspan><tspan x="1437" dy="7">ADSIC_A13</tspan><tspan x="1437" dy="6.5">ADSIC_A14</tspan><tspan x="1437" dy="7">ADSIC_A15</tspan></text>
<text x="1193" y="489"><tspan x="1193">DSP_A0</tspan><tspan x="1193" dy="7">DSP_A1</tspan><tspan x="1193" dy="7">DSP_A2</tspan><tspan x="1193" dy="7">DSP_A13</tspan><tspan x="1193" dy="6.5">DSP_A14</tspan><tspan x="1193" dy="7">DSP_A15</tspan></text>
<text x="1240" y="561">GND</text><text x="1216" y="596">SW_VD5_0</text><text x="1414" y="596">GND</text><text x="1310" y="608">74ACT16244A</text>
<text x="1466" y="616">to/from Sheet 2</text>
<text x="630" y="769" font-size="6.5">To UI Board</text><text x="648" y="777">J2</text>
<text x="640" y="787" font-size="4.5"><tspan x="640">1</tspan><tspan x="640" dy="6.9">3</tspan><tspan x="640" dy="6.9">5</tspan><tspan x="640" dy="6.9">7</tspan><tspan x="640" dy="6.9">9</tspan><tspan x="640" dy="6.9">11</tspan><tspan x="640" dy="6.9">13</tspan><tspan x="640" dy="6.9">15</tspan><tspan x="640" dy="6.9">17</tspan><tspan x="640" dy="6.9">19</tspan><tspan x="640" dy="6.9">21</tspan><tspan x="640" dy="6.9">23</tspan><tspan x="640" dy="6.9">25</tspan><tspan x="640" dy="6.9">27</tspan><tspan x="640" dy="6.9">29</tspan><tspan x="640" dy="6.9">31</tspan><tspan x="640" dy="6.9">33</tspan><tspan x="640" dy="6.9">35</tspan><tspan x="640" dy="6.9">37</tspan><tspan x="640" dy="6.9">39</tspan><tspan x="640" dy="6.9">41</tspan><tspan x="640" dy="6.9">43</tspan><tspan x="640" dy="6.9">45</tspan><tspan x="640" dy="6.9">47</tspan><tspan x="640" dy="6.9">49</tspan><tspan x="640" dy="6.9">51</tspan><tspan x="640" dy="6.9">53</tspan><tspan x="640" dy="6.9">55</tspan><tspan x="640" dy="6.9">57</tspan><tspan x="640" dy="6.9">59</tspan></text>
<text x="655" y="787" font-size="4.5"><tspan x="655">2</tspan><tspan x="655" dy="6.9">4</tspan><tspan x="655" dy="6.9">6</tspan><tspan x="655" dy="6.9">8</tspan><tspan x="655" dy="6.9">10</tspan><tspan x="655" dy="6.9">12</tspan><tspan x="655" dy="6.9">14</tspan><tspan x="655" dy="6.9">16</tspan><tspan x="655" dy="6.9">18</tspan><tspan x="655" dy="6.9">20</tspan><tspan x="655" dy="6.9">22</tspan><tspan x="655" dy="6.9">24</tspan><tspan x="655" dy="6.9">26</tspan><tspan x="655" dy="6.9">28</tspan><tspan x="655" dy="6.9">30</tspan><tspan x="655" dy="6.9">32</tspan><tspan x="655" dy="6.9">34</tspan><tspan x="655" dy="6.9">36</tspan><tspan x="655" dy="6.9">38</tspan><tspan x="655" dy="6.9">40</tspan><tspan x="655" dy="6.9">42</tspan><tspan x="655" dy="6.9">44</tspan><tspan x="655" dy="6.9">46</tspan><tspan x="655" dy="6.9">48</tspan><tspan x="655" dy="6.9">50</tspan><tspan x="655" dy="6.9">52</tspan><tspan x="655" dy="6.9">54</tspan><tspan x="655" dy="6.9">56</tspan><tspan x="655" dy="6.9">58</tspan><tspan x="655" dy="6.9">60</tspan></text>
<text x="633" y="1004">CON60_GGA</text>
<text x="572" y="784">HCNTL0</text><text x="572" y="798">HBIL</text><text x="572" y="826">HRDY</text><text x="572" y="902">SPCLK</text><text x="572" y="909">H_RnW</text><text x="572" y="915">MOSI</text><text x="572" y="936">ISN_IRQ</text><text x="572" y="943">FIPS_CS</text><text x="572" y="964">nADSCSEL</text><text x="572" y="971">RF_nLOCK</text><text x="572" y="978">nHRESET</text><text x="572" y="984">POWER_HOLD</text>
<text x="627" y="794" text-anchor="end">GND</text><text x="627" y="808" text-anchor="end">GND</text><text x="627" y="815" text-anchor="end">SW_VA5_0</text><text x="627" y="822" text-anchor="end">GND</text><text x="627" y="836" text-anchor="end">GND</text><text x="627" y="849" text-anchor="end">GND</text><text x="627" y="863" text-anchor="end">GND</text><text x="627" y="884" text-anchor="end">GND</text><text x="627" y="891" text-anchor="end">SW_BATT</text><text x="627" y="898" text-anchor="end">UNSW_VD3_3</text><text x="627" y="925" text-anchor="end">GND</text><text x="627" y="960" text-anchor="end">SW_VD5_0</text>
<text x="679" y="794">GND</text><text x="679" y="808">GND</text><text x="679" y="822">GND</text><text x="679" y="836">GND</text><text x="679" y="849">GND</text><text x="679" y="863">GND</text><text x="679" y="877">GND</text><text x="679" y="891">GND</text><text x="679" y="905">GND</text>
<text x="710" y="798">HPI_D7</text><text x="710" y="812">HPI_D5</text><text x="710" y="826">HPI_D3</text><text x="710" y="839">HPI_D1</text><text x="710" y="853">HPI_D4</text><text x="710" y="867">HPI_D0</text><text x="710" y="881">HPI_D2</text><text x="710" y="895">HPI_D6</text>
<text x="728" y="784">HCNTL1</text>
<text x="755" y="909">MOSI</text><text x="755" y="915">MISO</text><text x="755" y="922">nSYNCSEL</text><text x="755" y="929">nDACSEL</text><text x="755" y="936">LOGBRD_nRST</text><text x="755" y="943">FIPS_IRQ</text><text x="755" y="950">HDS2</text><text x="755" y="957">H_nCS</text><text x="755" y="964">ADSIC_nSEL</text><text x="755" y="978">HINT</text>
<text x="682" y="988">SW_VD3_3</text><text x="856" y="971">RESRLN</text>
<text x="494" y="838">AUDIO_OUT_P</text><text x="494" y="852">AUDIO_OUT_M</text><text x="494" y="866">AUDIO_IN_M</text><text x="494" y="873">AUDIO_IN_P</text><text x="510" y="928">ON_OFF_SW</text><text x="507" y="949">RF_AUDIO_MUTE</text><text x="494" y="997">SDO_MUTE</text>
<text x="426" y="958">SW_VD5_0</text><text x="467" y="972">GND</text><text x="419" y="1007">U5A</text><text x="416" y="1013">NHC7125</text><text x="451" y="1021">GND</text><text x="453" y="980">14</text><text x="436" y="988">2</text>
<text x="306" y="778" font-size="6.5">Power Switching</text>
<text x="130" y="778" font-size="4">Ferrite Inductor</text><text x="145" y="786">L11</text><text x="108" y="790">TP21</text><text x="66" y="802">UNSW_BATT</text>
<text x="133" y="817">C104</text><text x="133" y="824">0.1uF</text><text x="118" y="842">GND</text>
<text x="245" y="783">Source</text><text x="228" y="790">UNSW_BATT_FILT</text><text x="231" y="817">C105</text><text x="231" y="824">0.1uF</text><text x="243" y="842">GND</text>
<text x="305" y="805">Q15</text><text x="298" y="811">SI1553DL</text>
<text x="263" y="843">R69</text><text x="260" y="850">100K</text><text x="258" y="877">CR1</text><text x="255" y="882">BAR58</text>
<text x="328" y="871">Q35</text><text x="328" y="877">SI1553DL</text>
<text x="388" y="838">Source</text><text x="385" y="845">SW_BATT</text><text x="388" y="884">Source</text><text x="385" y="891">RF_SW_BATT</text>
<text x="215" y="852">TP21</text><text x="180" y="866">ON_OFF_SW</text><text x="215" y="886">TP22</text><text x="178" y="901">POWER_HOLD</text><text x="234" y="896">R65</text><text x="232" y="902">100K</text><text x="215" y="911">TP20</text><text x="215" y="935">GND</text>
<text x="288" y="898">Q2</text><text x="283" y="904">MMBT3904T1</text><text x="271" y="928">GND</text>
<text x="1268" y="664">SW_VD1_5</text><text x="1274" y="763">GND</text><text x="1383" y="664">SW_VD3_3</text><text x="1391" y="763">GND</text>
<text x="940" y="828">SW_VD5_0</text><text x="946" y="929">GND</text><text x="1152" y="828">SW_VD3_3</text><text x="1160" y="929">GND</text>
<g font-size="4.5">
<text transform="translate(1277,703) rotate(-90)">0.01uF</text><text transform="translate(1291,703) rotate(-90)">0.01uF</text><text transform="translate(1305,703) rotate(-90)">0.01uF</text><text transform="translate(1319,703) rotate(-90)">0.01uF</text><text transform="translate(1333,703) rotate(-90)">0.1uF</text><text transform="translate(1347,703) rotate(-90)">0.1uF</text><text transform="translate(1361,703) rotate(-90)">0.1uF</text>
<text transform="translate(1277,724) rotate(-90)">C1</text><text transform="translate(1291,724) rotate(-90)">C2</text><text transform="translate(1305,724) rotate(-90)">C3</text><text transform="translate(1319,724) rotate(-90)">C4</text><text transform="translate(1333,724) rotate(-90)">C5</text><text transform="translate(1347,724) rotate(-90)">C6</text><text transform="translate(1361,724) rotate(-90)">C7</text>
<text transform="translate(1395,703) rotate(-90)">0.01uF</text><text transform="translate(1409,703) rotate(-90)">0.01uF</text><text transform="translate(1423,703) rotate(-90)">0.01uF</text><text transform="translate(1437,703) rotate(-90)">0.1uF</text><text transform="translate(1451,703) rotate(-90)">0.1uF</text><text transform="translate(1464,703) rotate(-90)">0.1uF</text>
<text transform="translate(1395,724) rotate(-90)">C8</text><text transform="translate(1409,724) rotate(-90)">C9</text><text transform="translate(1423,726) rotate(-90)">C10</text><text transform="translate(1437,726) rotate(-90)">C11</text><text transform="translate(1451,726) rotate(-90)">C12</text><text transform="translate(1464,726) rotate(-90)">C13</text>
<text transform="translate(950,868) rotate(-90)">0.01uF</text><text transform="translate(963,868) rotate(-90)">0.01uF</text><text transform="translate(977,868) rotate(-90)">0.01uF</text><text transform="translate(991,868) rotate(-90)">0.01uF</text><text transform="translate(1004,868) rotate(-90)">0.1uF</text><text transform="translate(1018,868) rotate(-90)">0.1uF</text><text transform="translate(1032,868) rotate(-90)">0.1uF</text><text transform="translate(1046,868) rotate(-90)">0.1uF</text>
<text transform="translate(950,890) rotate(-90)">C36</text><text transform="translate(963,890) rotate(-90)">C37</text><text transform="translate(977,890) rotate(-90)">C38</text><text transform="translate(991,890) rotate(-90)">C39</text><text transform="translate(1004,890) rotate(-90)">C40</text><text transform="translate(1018,890) rotate(-90)">C41</text><text transform="translate(1032,890) rotate(-90)">C42</text><text transform="translate(1046,890) rotate(-90)">C43</text>
<text transform="translate(1067,868) rotate(-90)">0.01uF</text><text transform="translate(1081,868) rotate(-90)">0.01uF</text><text transform="translate(1095,868) rotate(-90)">0.01uF</text><text transform="translate(1108,868) rotate(-90)">0.01uF</text><text transform="translate(1122,868) rotate(-90)">0.1uF</text><text transform="translate(1136,868) rotate(-90)">0.1uF</text><text transform="translate(1150,868) rotate(-90)">0.1uF</text><text transform="translate(1164,868) rotate(-90)">0.1uF</text>
<text transform="translate(1067,890) rotate(-90)">C44</text><text transform="translate(1081,890) rotate(-90)">C45</text><text transform="translate(1095,890) rotate(-90)">C46</text><text transform="translate(1108,890) rotate(-90)">C47</text><text transform="translate(1122,890) rotate(-90)">C48</text><text transform="translate(1136,890) rotate(-90)">C49</text><text transform="translate(1150,890) rotate(-90)">C50</text><text transform="translate(1164,890) rotate(-90)">C51</text>
</g>
</g>

<!-- Title & footer -->
<text x="474" y="1100" font-size="19" font-weight="bold" textLength="603" lengthAdjust="spacingAndGlyphs">5100-150 LOGIC BOARD VER B SCHEMATIC (PAGE 1 OF 2)</text>
<text x="35" y="1155" font-size="18" textLength="304" lengthAdjust="spacingAndGlyphs">Version B Board (see Section 1.13)</text>
<text x="580" y="1155" font-size="18" textLength="40" lengthAdjust="spacingAndGlyphs">8-46</text>
<text x="849" y="1155" font-size="18" textLength="212" lengthAdjust="spacingAndGlyphs">Version with EFJ SEM</text>
</svg>
</body></html>
